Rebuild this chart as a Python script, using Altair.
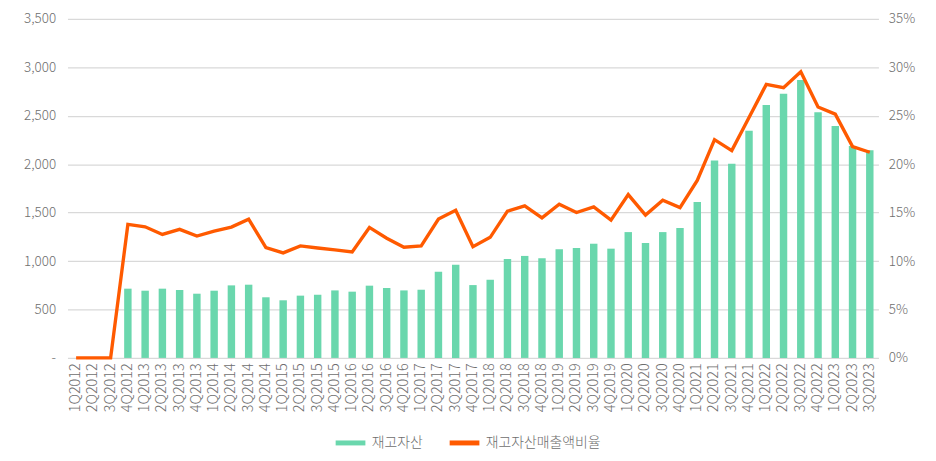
import altair as alt
import pandas as pd

quarters = ["1Q2012","2Q2012","3Q2012","4Q2012",
            "1Q2013","2Q2013","3Q2013","4Q2013",
            "1Q2014","2Q2014","3Q2014","4Q2014",
            "1Q2015","2Q2015","3Q2015","4Q2015",
            "1Q2016","2Q2016","3Q2016","4Q2016",
            "1Q2017","2Q2017","3Q2017","4Q2017",
            "1Q2018","2Q2018","3Q2018","4Q2018",
            "1Q2019","2Q2019","3Q2019","4Q2019",
            "1Q2020","2Q2020","3Q2020","4Q2020",
            "1Q2021","2Q2021","3Q2021","4Q2021",
            "1Q2022","2Q2022","3Q2022","4Q2022",
            "1Q2023","2Q2023","3Q2023"]

inventory = [0, 0, 0, 715,
             694, 715, 701, 663,
             694, 749, 756, 626,
             595, 643, 653, 697,
             684, 746, 722, 697,
             704, 889, 961, 752,
             807, 1022, 1053, 1029,
             1122, 1135, 1179, 1128,
             1299, 1187, 1299, 1340,
             1610, 2038, 2004, 2345,
             2612, 2728, 2868, 2537,
             2393, 2188, 2143]

ratio = [0, 0, 0, 13.78,
         13.54, 12.75, 13.27, 12.58,
         13.10, 13.51, 14.33, 11.38,
         10.84, 11.56, 11.35, 11.15,
         10.94, 13.47, 12.35, 11.42,
         11.56, 14.33, 15.25, 11.49,
         12.45, 15.15, 15.69, 14.46,
         15.86, 15.01, 15.59, 14.22,
         16.86, 14.74, 16.27, 15.52,
         18.33, 22.53, 21.40, 24.82,
         28.24, 27.89, 29.53, 25.91,
         25.17, 21.81, 21.23]

series_names = ["재고자산", "재고자산매출액비율"]
series_colors = ["#6AD7AD", "#FF5A00"]

df = pd.DataFrame({"q": quarters, "inv": inventory, "ratio": ratio})
df_bar = df.assign(series=series_names[0])
df_line = df.assign(series=series_names[1])

FONT = "Noto Sans CJK KR"
GRAY = "#6E6E6E"

x_enc = alt.X("q:N", sort=quarters, title=None,
              scale=alt.Scale(paddingInner=0.57, paddingOuter=0.285),
              axis=alt.Axis(labelAngle=-90, labelFontSize=14.5, labelColor=GRAY,
                            labelFont=FONT, labelFontWeight=300,
                            ticks=False, domain=False, labelPadding=5,
                            grid=False))

color_scale = alt.Scale(domain=series_names, range=series_colors)

bars = alt.Chart(df_bar).mark_bar(size=7.5).encode(
    x=x_enc,
    y=alt.Y("inv:Q", title=None,
            scale=alt.Scale(domain=[0, 3500], nice=False),
            axis=alt.Axis(values=list(range(0, 3501, 500)),
                          labelExpr="datum.value == 0 ? '-' : format(datum.value, ',')",
                          labelFontSize=13.5, labelColor=GRAY, labelFont=FONT,
                          labelFontWeight=300,
                          ticks=False, domain=False, labelPadding=12,
                          gridColor="#D9D9D9", gridWidth=1.3)),
    color=alt.Color("series:N", scale=color_scale,
                    legend=alt.Legend(title=None, orient="none", direction="horizontal",
                                      legendX=268, legendY=410,
                                      symbolType="stroke", symbolSize=900,
                                      symbolStrokeWidth=5,
                                      labelFontSize=14, labelColor=GRAY, labelFont=FONT,
                                      labelFontWeight=300,
                                      columnPadding=16, labelOffset=4))
)

line = alt.Chart(df_line).mark_line(strokeWidth=3.4).encode(
    x=alt.X("q:N", sort=quarters, bandPosition=0.5),
    y=alt.Y("ratio:Q", title=None,
            scale=alt.Scale(domain=[0, 35], nice=False),
            axis=alt.Axis(orient="right", values=list(range(0, 36, 5)),
                          labelExpr="datum.value + '%'",
                          labelFontSize=13.5, labelColor=GRAY, labelFont=FONT,
                          labelFontWeight=300,
                          ticks=False, domain=False, labelPadding=10, grid=False)),
    color=alt.Color("series:N", scale=color_scale)
)

chart = alt.layer(bars, line).resolve_scale(y="independent").properties(
    width=818, height=342,
    autosize=alt.AutoSizeParams(type="none"),
    padding={"left": 60, "top": 9, "right": 50, "bottom": 103},
    background="white"
).configure_view(stroke=None)

chart.save("out.html", embed_options={"renderer": "svg", "actions": False})
